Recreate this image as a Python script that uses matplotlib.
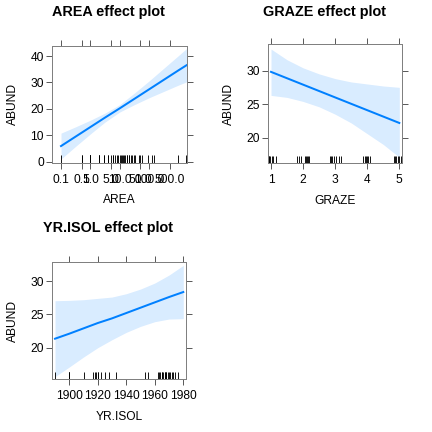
import numpy as np
import matplotlib
matplotlib.use("Agg")
import matplotlib.pyplot as plt
import matplotlib.transforms as mtransforms

plt.rcParams['font.family'] = ['Liberation Sans', 'DejaVu Sans']

# AREA effect (log x axis)
area_x = [0.1, 0.316, 1, 3.16, 10, 31.6, 100, 316, 1000, 1860]
area_fit = [5.9, 9.5, 13.1, 16.7, 20.2, 23.8, 27.4, 31.0, 34.6, 36.5]
area_lo = [1.0, 5.8, 10.5, 15.0, 18.8, 21.6, 24.2, 26.6, 29.0, 30.2]
area_hi = [10.8, 13.2, 15.7, 18.4, 21.6, 26.0, 30.6, 35.4, 40.2, 42.8]
area_rug = [0.1, 0.5, 0.5, 1, 1, 1, 1, 1, 2, 2, 2, 3, 3, 4, 4, 5, 6, 6, 7, 8, 9,
            10, 11, 12, 13, 14, 15, 17, 18, 20, 21, 24, 26, 31, 33, 46, 49, 57,
            92, 125, 144, 973, 1771]
area_ticks = [0.1, 0.5, 1, 5, 10, 50, 100, 500]
area_labels = ['0.1', '0.5', '1.0', '5.0', '10.0', '50.0', '100.0', '500.0']

# GRAZE effect
graze_x = [1, 1.5, 2, 2.5, 3, 3.5, 4, 4.5, 5]
graze_fit = [29.8, 28.85, 27.9, 26.95, 26.0, 25.05, 24.1, 23.15, 22.2]
graze_lo = [26.3, 26.0, 25.4, 24.6, 23.5, 22.2, 20.6, 19.0, 17.1]
graze_hi = [33.2, 31.6, 30.4, 29.5, 28.8, 28.3, 28.0, 27.7, 27.5]
graze_rug = [0.90, 0.93, 0.95, 0.98, 1.03, 1.06, 1.15,
             1.82, 1.88, 1.93, 2.05, 2.08, 2.12, 2.16, 2.20,
             2.83, 2.87, 2.91, 2.95, 3.04, 3.12, 3.17,
             3.88, 3.92, 3.95, 3.98, 4.02, 4.10,
             4.82, 4.86, 4.90, 4.95, 5.00, 5.04]

# YR.ISOL effect
yr_x = [1890, 1900, 1910, 1920, 1930, 1940, 1950, 1960, 1970, 1980]
yr_fit = [21.35, 22.1, 22.9, 23.7, 24.4, 25.2, 26.0, 26.8, 27.6, 28.35]
yr_lo = [15.65, 17.1, 18.6, 20.0, 21.2, 22.3, 23.2, 23.9, 24.3, 24.35]
yr_hi = [27.05, 27.1, 27.2, 27.4, 27.6, 28.1, 28.8, 29.7, 30.9, 32.35]
yr_rug = [1890, 1900, 1900, 1900, 1910, 1917, 1918, 1919, 1920, 1920, 1922,
          1925, 1928, 1933, 1953, 1955, 1962, 1963, 1964, 1965, 1965, 1966,
          1967, 1967, 1968, 1968, 1969, 1970, 1971, 1972, 1973, 1974, 1976]

LINE = '#0080FF'
W = 432.0


def px_box(left, top, right, bottom):
    return [left / W, 1 - bottom / W, (right - left) / W, (bottom - top) / W]


def effect_panel(fig, box, x, fit, lo, hi, rug, title, xlabel, title_xy):
    ax = fig.add_axes(px_box(*box))
    ax.fill_between(x, lo, hi, color=LINE, alpha=0.15, lw=0)
    ax.plot(x, fit, color=LINE, lw=2.0)
    # rug along the bottom of the panel
    trans = mtransforms.blended_transform_factory(ax.transData, ax.transAxes)
    ax.vlines(rug, 0, 0.065, transform=trans, color='black', lw=0.9)
    for s in ax.spines.values():
        s.set_color('0.5')
        s.set_linewidth(1.0)
    ax.tick_params(direction='out', length=6, width=0.8, color='0.2',
                   labelsize=12, top=True, right=True)
    ax.tick_params(axis='x', pad=5)
    ax.tick_params(axis='y', pad=2)
    fig.text(title_xy[0] / W, 1 - title_xy[1] / W, title, ha='center',
             va='center', fontsize=14.4, fontweight='bold')
    cx = (box[0] + box[2]) / 2
    cy = (box[1] + box[3]) / 2
    fig.text(cx / W, 1 - (box[3] + 37.5) / W, xlabel, ha='center',
             va='center', fontsize=12)
    fig.text(12.5 / W + (box[0] - 52) / W, 1 - cy / W, 'ABUND', ha='center',
             va='center', rotation=90, fontsize=12)
    return ax


fig = plt.figure(figsize=(6, 6), dpi=72)

ax1 = effect_panel(fig, (52, 45.7, 186.5, 162.7), area_x, area_fit, area_lo,
                   area_hi, area_rug, 'AREA effect plot', 'AREA', (108, 12.3))
ax1.set_xscale('log')
ax1.set_xlim(0.0494, 1858)
ax1.set_xticks(area_ticks)
ax1.set_xticklabels(area_labels)
ax1.xaxis.set_minor_locator(matplotlib.ticker.NullLocator())
ax1.set_ylim(-0.4, 43.9)
ax1.set_yticks([0, 10, 20, 30, 40])

ax2 = effect_panel(fig, (268.3, 44.3, 402, 163.3), graze_x, graze_fit, graze_lo,
                   graze_hi, graze_rug, 'GRAZE effect plot', 'GRAZE', (324.3, 12.3))
ax2.set_xlim(0.916, 5.084)
ax2.set_xticks([1, 2, 3, 4, 5])
ax2.set_ylim(16.2, 33.9)
ax2.set_yticks([20, 25, 30])

ax3 = effect_panel(fig, (52.3, 261.7, 186, 379.3), yr_x, yr_fit, yr_lo,
                   yr_hi, yr_rug, 'YR.ISOL effect plot', 'YR.ISOL', (108, 228.3))
ax3.set_xlim(1888.1, 1981.9)
ax3.set_xticks([1900, 1920, 1940, 1960, 1980])
ax3.set_ylim(15.26, 32.9)
ax3.set_yticks([20, 25, 30])

fig.savefig('out.png', dpi=72)
